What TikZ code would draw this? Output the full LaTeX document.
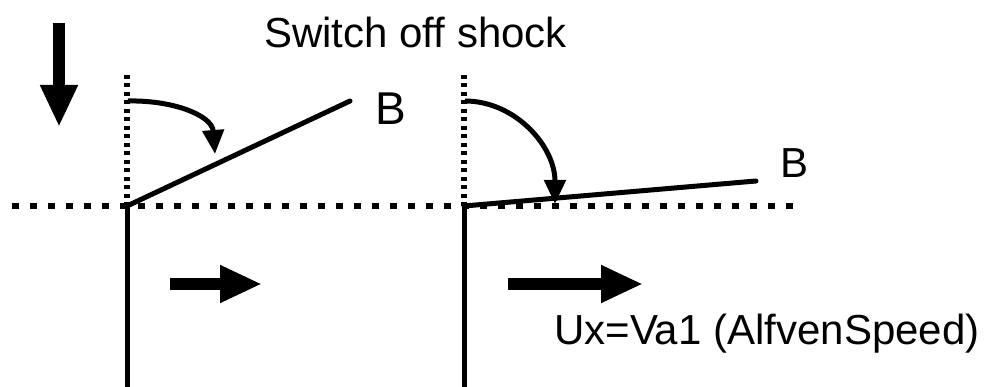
\documentclass[tikz,border=0pt]{standalone}
\usepackage{fontspec}
\setmainfont{Liberation Sans}
\usetikzlibrary{arrows.meta}
\begin{document}
\begin{tikzpicture}[x=1pt,y=-1pt,
  lbl/.style={inner sep=0pt,font=\fontsize{42}{46}\selectfont},
  solid line/.style={line width=5pt},
  hdots/.style={line width=6.5pt,dash pattern=on 6.5pt off 11.5pt},
  vdots/.style={line width=5.5pt,dash pattern=on 4pt off 4.5pt},
  fatarrow/.style={line width=12pt,-{Triangle[length=42pt,width=35pt]}},
  bend arrow/.style={line width=5pt,-{Triangle[length=24pt,width=21pt]}}]
\useasboundingbox (0,0) rectangle (986,387);
% coordinates
\coordinate (hL) at (12,206);
\coordinate (hR) at (800,206);
\coordinate (s1top) at (127,75);
\coordinate (s1) at (127,206);
\coordinate (s1bot) at (127,387);
\coordinate (s2top) at (464,75);
\coordinate (s2) at (464,206);
\coordinate (s2bot) at (464,387);
\coordinate (b1end) at (350,101);
\coordinate (b2end) at (756,181);
\coordinate (dA) at (59,23);
\coordinate (dB) at (59,127);
\coordinate (r1a) at (170,284);
\coordinate (r1b) at (262,284);
\coordinate (r2a) at (508,284);
\coordinate (r2b) at (643,284);
\coordinate (c1a) at (128,101);
\coordinate (c1b) at (215,154);
\coordinate (c2a) at (465,101);
\coordinate (c2b) at (555,204);
% texts
\node[lbl,anchor=base west] (title) at (264,48) {Switch off shock};
\node[lbl,anchor=base west,font=\fontsize{46}{50}\selectfont] (B1) at (375,125) {B};
\node[lbl,anchor=base west] (B2) at (780,178) {B};
\node[lbl,anchor=base west] (ux) at (554,345) {Ux=Va1 (AlfvenSpeed)};
% dotted lines
\draw[hdots] (hL) -- (hR);
\draw[vdots] (s1top) -- (s1);
\draw[vdots] (s2top) -- (s2);
% shock fronts
\draw[solid line] (s1) -- (s1bot);
\draw[solid line] (s2) -- (s2bot);
% field lines
\draw[solid line,line cap=round] (s1) -- (b1end);
\draw[solid line,line cap=round] (s2) -- (b2end);
% curved arrows
\draw[bend arrow] (c1a) .. controls (172,100) and (212,115) .. (c1b);
\draw[bend arrow] (c2a) .. controls (515,101) and (555,146) .. (c2b);
% flow arrows
\draw[fatarrow] (dA) -- (dB);
\draw[fatarrow] (r1a) -- (r1b);
\draw[fatarrow] (r2a) -- (r2b);
\end{tikzpicture}
\end{document}
